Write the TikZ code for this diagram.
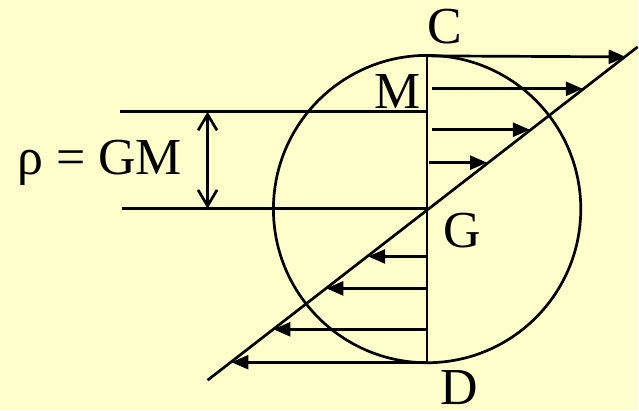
\documentclass[tikz,border=0pt]{standalone}
\usepackage{fontspec}
\setmainfont{Liberation Serif}
\usetikzlibrary{arrows.meta}
\definecolor{PaperYellow}{RGB}{255,255,204}

\begin{document}
\begin{tikzpicture}[x=0.5pt,y=-0.5pt,line width=1.35pt,
    lbl/.style={inner sep=0pt,font=\fontsize{26}{30}\selectfont},
    push/.style={-{Triangle[length=8.5pt,width=7pt]}}]
      \fill[PaperYellow] (0,0) rectangle (639,411);
      \coordinate (C) at (428,56);
      \coordinate (M) at (428,112);
      \coordinate (G) at (428,209);
      \coordinate (D) at (428,363);
      \coordinate (lowEnd) at (208,381);
      \coordinate (highEnd) at (639,47);
      \coordinate (mLeft) at (120,112);
      \coordinate (gLeft) at (122,209);
      \draw (428,209.5) circle[radius=154];
      \draw (C) -- (D);
      \draw (lowEnd) -- (highEnd);
      \draw (mLeft) -- (M);
      \draw (gLeft) -- (G);
      % stress arrows, upper half
      \draw[push] (C) -- (627,57);
      \draw[push] (433,89) -- (584,89);
      \draw[push] (433,130) -- (531,130);
      \draw[push] (430,163) -- (488,163);
      % stress arrows, lower half
      \draw[push] (428,257) -- (369,257);
      \draw[push] (428,289) -- (327,289);
      \draw[push] (428,330) -- (274,330);
      \draw[push] (D) -- (232,363);
      \draw[{Straight Barb[length=8pt,width=9.5pt]}-{Straight Barb[length=8pt,width=9.5pt]}] (208,112) -- (208,209);
      \node[lbl] (labC) at (446,27) {C};
      \node[lbl] (labM) at (398,92) {M};
      \node[lbl] (labG) at (463,231) {G};
      \node[lbl] (labD) at (460,388) {D};
      \node[lbl,anchor=base] (rho) at (100,175) {ρ = GM};
    \end{tikzpicture}
\end{document}
